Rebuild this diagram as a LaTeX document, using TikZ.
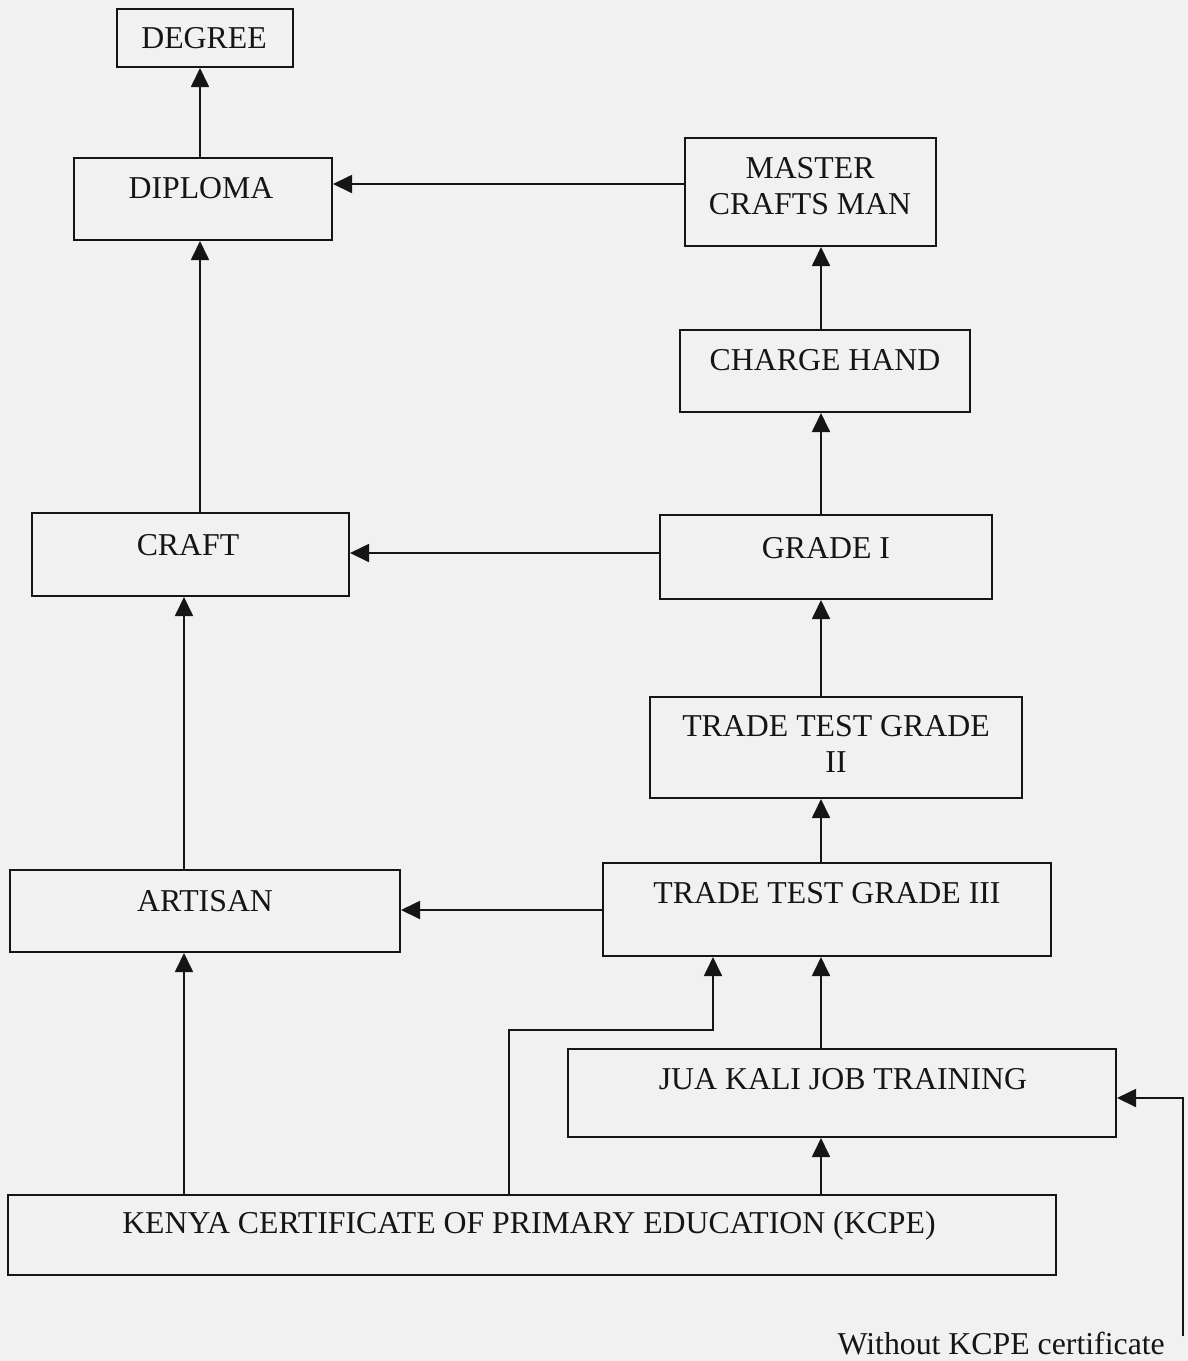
\documentclass[tikz,border=0pt]{standalone}
\usepackage{fontspec}
\setmainfont{Liberation Serif}
\usetikzlibrary{arrows.meta}
\definecolor{paper}{HTML}{F1F1F1}
\definecolor{ink}{HTML}{151515}
\tikzset{
  box/.style={draw=ink, line width=2pt, rectangle, inner sep=0pt},
  lbl/.style={text=ink, font=\fontsize{31.8}{36}\selectfont, align=center, inner sep=0pt},
  arr/.style={draw=ink, line width=1.8pt, -{Triangle[width=18pt,length=19pt]}},
  ln/.style={draw=ink, line width=1.8pt}
}
\begin{document}
\begin{tikzpicture}[x=1pt,y=-1pt]
\useasboundingbox[fill=paper] (0,0) rectangle (1188,1361);
% boxes
\node[box, minimum width=176pt, minimum height=58pt] (deg) at (205,38) {};
\node[box, minimum width=258pt, minimum height=82pt] (dip) at (203,199) {};
\node[box, minimum width=251pt, minimum height=108pt] (mcm) at (810.5,192) {};
\node[box, minimum width=290pt, minimum height=82pt] (ch) at (825,371) {};
\node[box, minimum width=317pt, minimum height=83pt] (craft) at (190.5,554.5) {};
\node[box, minimum width=332pt, minimum height=84pt] (g1) at (826,557) {};
\node[box, minimum width=372pt, minimum height=101pt] (tt2) at (836,747.5) {};
\node[box, minimum width=390pt, minimum height=82pt] (art) at (205,911) {};
\node[box, minimum width=448pt, minimum height=93pt] (tt3) at (827,909.5) {};
\node[box, minimum width=548pt, minimum height=88pt] (jk) at (842,1093) {};
\node[box, minimum width=1048pt, minimum height=80pt] (kcpe) at (532,1235) {};
% labels
\node[lbl] (tdeg) at (204,38) {DEGREE};
\node[lbl] (tdip) at (201,188) {DIPLOMA};
\node[lbl] (tmcm) at (810,186) {MASTER\\CRAFTS MAN};
\node[lbl] (tch) at (825,360) {CHARGE HAND};
\node[lbl] (tcraft) at (188,545) {CRAFT};
\node[lbl] (tg1) at (826,548) {GRADE I};
\node[lbl] (ttt2) at (836,744) {TRADE TEST GRADE\\II};
\node[lbl] (tart) at (205,901) {ARTISAN};
\node[lbl] (ttt3) at (827,893) {TRADE TEST GRADE III};
\node[lbl] (tjk) at (843,1079) {JUA KALI JOB TRAINING};
\node[lbl] (tkcpe) at (529,1226) {KENYA CERTIFICATE OF PRIMARY EDUCATION (KCPE)};
\node[lbl, anchor=east] (wk) at (1165,1344) {Without KCPE certificate};
% helper coordinates
\coordinate (xL) at (200,0);
\coordinate (xA) at (184,0);
\coordinate (xR) at (821,0);
\coordinate (xK) at (509,0);
\coordinate (xT) at (713,0);
\coordinate (yM) at (0,184);
\coordinate (yG) at (0,553);
\coordinate (yT) at (0,910);
\coordinate (yJ) at (0,1098);
\coordinate (elb1) at (509,1030);
\coordinate (elb2) at (713,1030);
\coordinate (wtop) at (1183,1336);
\coordinate (wbend) at (1183,1098);
% connectors
\draw[arr] (dip.north -| xL) -- (deg.south -| xL);
\draw[arr] (craft.north -| xL) -- (dip.south -| xL);
\draw[arr] (mcm.west |- yM) -- (dip.east |- yM);
\draw[arr] (ch.north -| xR) -- (mcm.south -| xR);
\draw[arr] (g1.north -| xR) -- (ch.south -| xR);
\draw[arr] (g1.west |- yG) -- (craft.east |- yG);
\draw[arr] (tt2.north -| xR) -- (g1.south -| xR);
\draw[arr] (tt3.north -| xR) -- (tt2.south -| xR);
\draw[arr] (art.north -| xA) -- (craft.south -| xA);
\draw[arr] (tt3.west |- yT) -- (art.east |- yT);
\draw[arr] (kcpe.north -| xA) -- (art.south -| xA);
\draw[arr] (kcpe.north -| xK) -- (elb1) -- (elb2) -- (tt3.south -| xT);
\draw[arr] (jk.north -| xR) -- (tt3.south -| xR);
\draw[arr] (kcpe.north -| xR) -- (jk.south -| xR);
\draw[arr] (wtop) -- (wbend) -- (jk.east |- yJ);
\end{tikzpicture}
\end{document}
